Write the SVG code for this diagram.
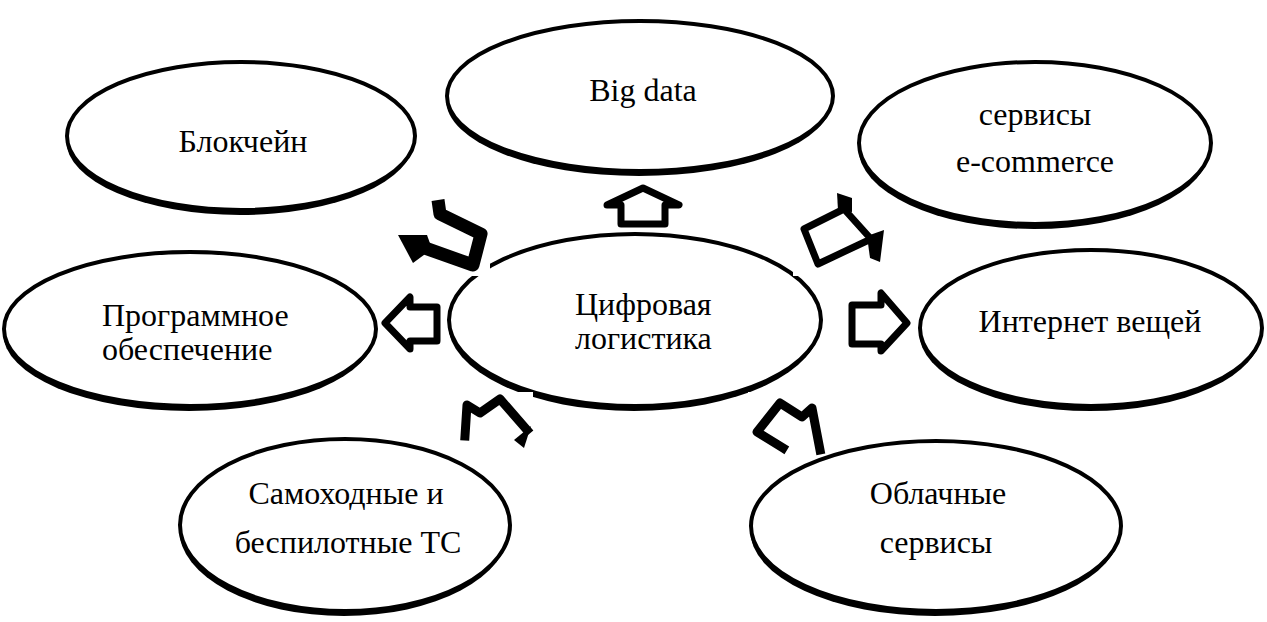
<svg xmlns="http://www.w3.org/2000/svg" width="1267" height="622" viewBox="0 0 1267 622">
<style>
.sh{fill:#000}
.el{fill:#fff;stroke:#000;stroke-width:4}
.m{text-anchor:middle}
.ar{fill:#fff;stroke:#000;stroke-width:7;stroke-linejoin:round}
.ln{fill:none;stroke:#000;stroke-width:9;stroke-linejoin:round;stroke-linecap:square}
.cut{fill:#fff}
</style>
<rect width="1267" height="622" fill="#fff"/>
<g font-family="Liberation Serif, Times New Roman, DejaVu Serif, serif" font-size="32" fill="#000">
<g id="node-blockchain">
<ellipse class="sh" cx="240" cy="140" rx="174" ry="75"/>
<ellipse class="el" cx="241" cy="136" rx="174" ry="74"/>
<text class="m" x="243" y="152">Блокчейн</text>
</g>
<g id="node-bigdata">
<ellipse class="sh" cx="639" cy="100" rx="193" ry="76"/>
<ellipse class="el" cx="640" cy="96" rx="193" ry="75"/>
<text class="m" x="643" y="101">Big data</text>
</g>
<g id="node-ecommerce">
<ellipse class="sh" cx="1034" cy="147" rx="176" ry="82"/>
<ellipse class="el" cx="1035" cy="143" rx="176" ry="81"/>
<text class="m" x="1035" y="125">сервисы</text>
<text class="m" x="1035" y="172">e-commerce</text>
</g>
<g id="node-software">
<ellipse class="sh" cx="189" cy="333" rx="186" ry="78"/>
<ellipse class="el" cx="190" cy="329" rx="186" ry="77"/>
<text x="102" y="326">Программное</text>
<text x="102" y="360">обеспечение</text>
</g>
<g id="node-iot">
<ellipse class="sh" cx="1090" cy="332" rx="171" ry="79"/>
<ellipse class="el" cx="1091" cy="328" rx="171" ry="78"/>
<text class="m" x="1090" y="332">Интернет вещей</text>
</g>
<g id="node-vehicles">
<ellipse class="sh" cx="344" cy="529" rx="165" ry="87"/>
<ellipse class="el" cx="345" cy="525" rx="165" ry="86"/>
<text class="m" x="346" y="504">Самоходные и</text>
<text class="m" x="348" y="553">беспилотные ТС</text>
</g>
<g id="node-cloud">
<ellipse class="sh" cx="935" cy="530" rx="185" ry="86"/>
<ellipse class="el" cx="936" cy="526" rx="185" ry="85"/>
<text class="m" x="938" y="504">Облачные</text>
<text class="m" x="936" y="553">сервисы</text>
</g>
<g id="node-center">
<ellipse class="sh" cx="634" cy="324" rx="186" ry="87"/>
<ellipse class="el" cx="635" cy="320" rx="186" ry="86"/>
<rect class="cut" x="420" y="215" width="70" height="61"/>
<rect class="cut" x="793" y="215" width="60" height="61"/>
<rect class="cut" x="440" y="392" width="93" height="60"/>
<rect class="cut" x="748" y="392" width="90" height="60"/>
<text x="575" y="315">Цифровая</text>
<text x="575" y="349">логистика</text>
</g>
</g>
<g id="connectors">
<polygon class="ar" points="643,188 679,205 665,205 665,224 621,224 621,205 607,205"/>
<polygon class="ar" points="385,323 410,297 410,307 437,307 437,341 410,341 410,349"/>
<polygon class="ar" points="907,323 881,293 881,305 852,305 852,344 881,344 881,351"/>
<path fill="none" stroke="#000" stroke-width="13" stroke-linejoin="round" d="M438,200 L440,214 L481,234 L473,265 L425,248"/>
<polygon class="sh" points="398,235 427,235 432,249 413,263"/>
<polygon class="ar" points="804,229 844,209 871,239 818,264" stroke-width="9"/>
<polygon class="sh" points="837,193 852,198 852,212 838,210"/>
<polygon class="sh" points="867,236 884,230 880,262 870,258"/>
<path class="ln" d="M465,436 L467,405 L480,413 L500,399 L527,430"/>
<polygon class="sh" points="514,440 531,426 524,448"/>
<path class="ln" d="M783,448 L757,432 L780,403 L802,417 L812,408 L820,450"/>
</g>
</svg>
